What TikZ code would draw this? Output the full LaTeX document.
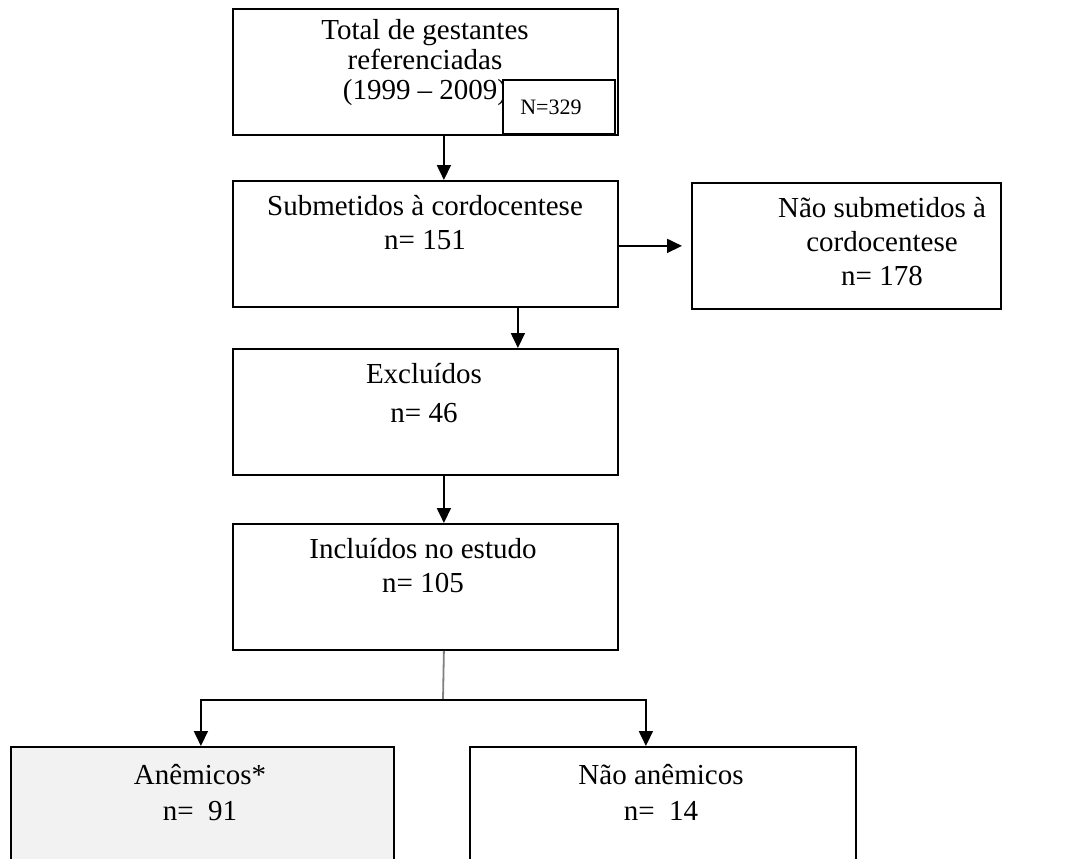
\documentclass[tikz,border=0pt]{standalone}
\usepackage{fontspec}
\setmainfont{Liberation Serif}
\usetikzlibrary{arrows.meta}
\begin{document}
\begin{tikzpicture}[x=1pt,y=-1pt,
  box/.style={draw=black,line width=1.8pt,anchor=north west,inner sep=0pt,
              minimum width=385pt,minimum height=126pt},
  txt/.style={anchor=north,align=center,inner sep=0pt,font=\fontsize{29}{34}\selectfont},
  arr/.style={line width=1.8pt,draw=black,-{Triangle[width=14pt,length=15pt]}},
  grayline/.style={line width=1.8pt,draw=black!50}]
\clip (0,0) rectangle (1069,859);
\fill[white] (0,0) rectangle (1069,859);
% boxes
\node[box] (b1) at (232,8) {};
\node[box] (b2) at (232,180) {};
\node[box,minimum width=309pt] (r) at (691,182) {};
\node[box] (b3) at (232,348) {};
\node[box] (b4) at (232,523) {};
\node[box,fill=black!5,minimum width=383pt,minimum height=140pt] (la) at (10,746) {};
\node[box,minimum width=386pt,minimum height=140pt] (ra) at (469,746) {};
% texts
\node[txt,font=\fontsize{29}{30}\selectfont] (t1) at (425,19) {Total de gestantes\\referenciadas\\(1999 -- 2009)\hspace{14pt}};
\node[draw=black,line width=1.8pt,fill=white,anchor=north west,inner sep=0pt,
      minimum width=112pt,minimum height=54pt] (nb) at (502,79) {};
\node[inner sep=0pt,anchor=base,font=\fontsize{22}{24}\selectfont] (nt) at (551,114) {N=329};
\node[txt] (t2) at (425,195) {Submetidos à cordocentese\\n= 151};
\node[txt] (tr) at (882,197) {Não submetidos à\\cordocentese\\n= 178};
\node[txt,font=\fontsize{29}{39}\selectfont] (t3) at (424,363) {Excluídos\\n= 46};
\node[txt] (t4) at (423,538) {Incluídos no estudo\\n= 105};
\node[txt,font=\fontsize{29}{36}\selectfont] (tl) at (200,764) {Anêmicos*\\n=\ \ 91};
\node[txt,font=\fontsize{29}{36}\selectfont] (tra) at (661,764) {Não anêmicos\\n=\ \ 14};
% connectors
\draw[arr] ([xshift=18.5pt]b1.south) -- ([xshift=18.5pt]b2.north);
\draw[arr] (b2.east |- r.west) -- ([xshift=-9pt]r.west);
\draw[arr] ([xshift=92.5pt]b2.south) -- ([xshift=92.5pt]b3.north);
\draw[arr] ([xshift=18.5pt]b3.south) -- ([xshift=18.5pt]b4.north);
\coordinate (sp) at (443,700);
\draw[grayline] ([xshift=18.5pt]b4.south) -- (sp);
\draw[arr] (sp) -| ([xshift=-1.5pt]la.north);
\draw[arr] (sp) -| ([xshift=-17pt]ra.north);
\end{tikzpicture}
\end{document}
